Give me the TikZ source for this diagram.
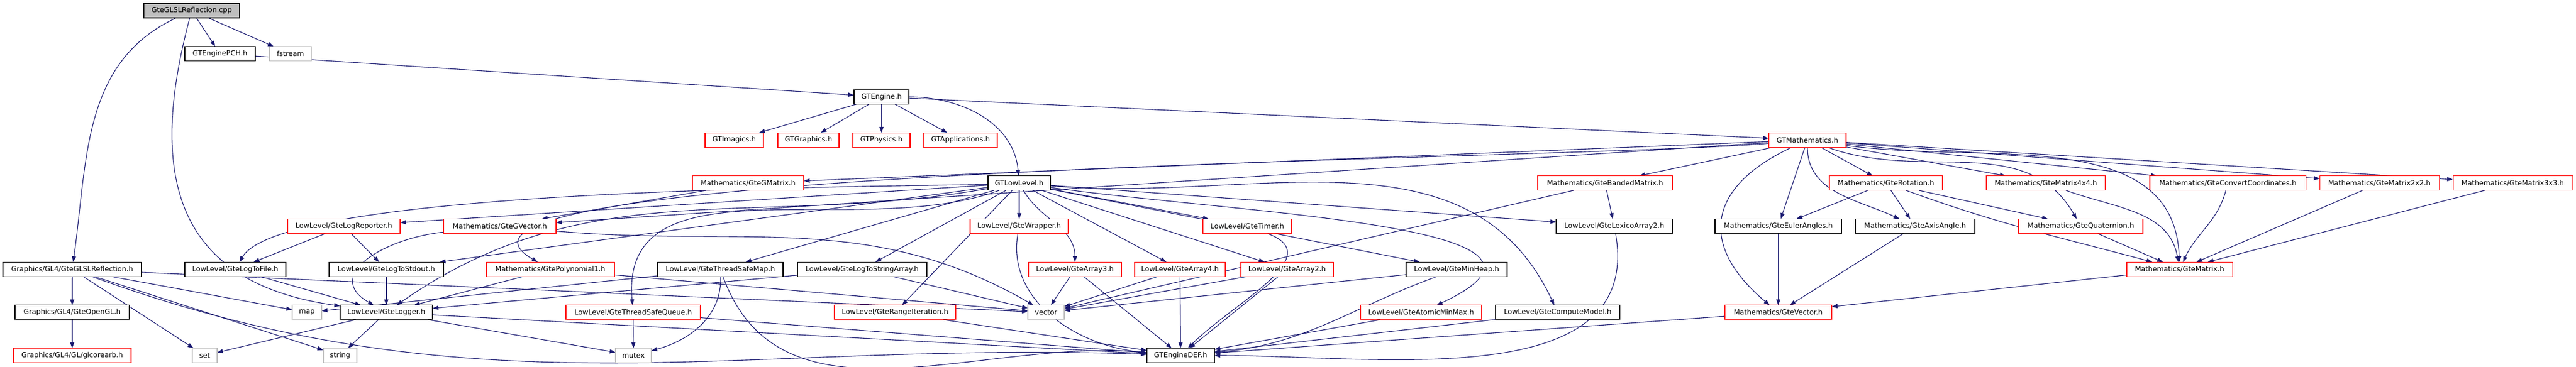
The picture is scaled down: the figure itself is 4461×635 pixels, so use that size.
\documentclass[tikz,border=0pt]{standalone}
\usepackage{fontspec}
\setmainfont{DejaVu Sans}
\usetikzlibrary{arrows.meta, backgrounds}
\definecolor{incblue}{HTML}{191970}
\definecolor{grey75}{HTML}{BFBFBF}
\tikzset{
->, % every connector is an include
>={Triangle[length=2.5pt, width=1.8pt]}, % filled heads as dot draws them
x=0.25pt, y=0.25pt, % one unit is one pixel of the graph
every node/.style={scale=0.25, font=\fontsize{12.2}{14}\selectfont, minimum height=25pt, inner sep=0pt},
header/.style={draw=black, line width=0.28pt, fill=white}, % header shown with all its includes
cut/.style={draw=red, line width=0.28pt, fill=white}, % header whose includes are left out
sys/.style={draw=grey75, line width=0.28pt, fill=white}, % system header
source/.style={draw=black, line width=0.28pt, fill=grey75}, % the file itself
}

\begin{document}
\begin{tikzpicture}
    \useasboundingbox (0,0) rectangle (4461,-635);
    % rank 0 and 1
    \node[source, minimum width=166pt] (cpp) at (332,-18.5) {GteGLSLReflection.cpp};
    \node[header, minimum width=122pt] (pch) at (381,-93.2) {GTEnginePCH.h};
    \node[sys, minimum width=72pt] (fstream) at (503,-93.2) {fstream};
    % rank 2 and 3
    \node[header, minimum width=95pt] (engine) at (1526.5,-167.9) {GTEngine.h};
    \node[cut, minimum width=101pt] (imagics) at (1271.5,-242.6) {GTImagics.h};
    \node[cut, minimum width=106pt] (graphics) at (1400,-242.6) {GTGraphics.h};
    \node[cut, minimum width=99pt] (physics) at (1526.5,-242.6) {GTPhysics.h};
    \node[cut, minimum width=127pt] (apps) at (1663.5,-242.6) {GTApplications.h};
    \node[cut, minimum width=134pt] (gm) at (3130,-242.6) {GTMathematics.h};
    % rank 4
    \node[cut, minimum width=193pt] (gmatrix) at (1295.5,-317.3) {Mathematics/GteGMatrix.h};
    \node[header, minimum width=108pt] (ll) at (1765,-317.3) {GTLowLevel.h};
    \node[cut, minimum width=233pt] (banded) at (2779.5,-317.3) {Mathematics/GteBandedMatrix.h};
    \node[cut, minimum width=196pt] (rotation) at (3266,-317.3) {Mathematics/GteRotation.h};
    \node[cut, minimum width=206pt] (m4) at (3543,-317.3) {Mathematics/GteMatrix4x4.h};
    \node[cut, minimum width=270pt] (convert) at (3858,-317.3) {Mathematics/GteConvertCoordinates.h};
    \node[cut, minimum width=207pt] (m2) at (4120.5,-317.3) {Mathematics/GteMatrix2x2.h};
    \node[cut, minimum width=207pt] (m3) at (4351.5,-317.3) {Mathematics/GteMatrix3x3.h};
    % rank 5
    \node[cut, minimum width=195pt] (logrep) at (595.5,-392) {LowLevel/GteLogReporter.h};
    \node[cut, minimum width=195pt] (gvector) at (865.5,-392) {Mathematics/GteGVector.h};
    \node[cut, minimum width=170pt] (wrapper) at (1765,-392) {LowLevel/GteWrapper.h};
    \node[cut, minimum width=154pt] (timer) at (2160,-392) {LowLevel/GteTimer.h};
    \node[header, minimum width=201pt] (lexico) at (2795.5,-392) {LowLevel/GteLexicoArray2.h};
    \node[header, minimum width=219pt] (euler) at (3079.5,-392) {Mathematics/GteEulerAngles.h};
    \node[header, minimum width=207pt] (axis) at (3316.5,-392) {Mathematics/GteAxisAngle.h};
    \node[cut, minimum width=215pt] (quat) at (3603.5,-392) {Mathematics/GteQuaternion.h};
    % rank 6
    \node[header, minimum width=240pt] (glslh) at (125,-466.7) {Graphics/GL4/GteGLSLReflection.h};
    \node[header, minimum width=175pt] (logfile) at (407.5,-466.7) {LowLevel/GteLogToFile.h};
    \node[header, minimum width=198pt] (stdout) at (669,-466.7) {LowLevel/GteLogToStdout.h};
    \node[cut, minimum width=222pt] (poly) at (953,-466.7) {Mathematics/GtePolynomial1.h};
    \node[header, minimum width=217pt] (tsmap) at (1247.5,-466.7) {LowLevel/GteThreadSafeMap.h};
    \node[header, minimum width=224pt] (lsa) at (1493,-466.7) {LowLevel/GteLogToStringArray.h};
    \node[cut, minimum width=161pt] (arr3) at (1861.5,-466.7) {LowLevel/GteArray3.h};
    \node[cut, minimum width=157pt] (arr4) at (2043.5,-466.7) {LowLevel/GteArray4.h};
    \node[cut, minimum width=160pt] (arr2) at (2229,-466.7) {LowLevel/GteArray2.h};
    \node[header, minimum width=175pt] (minheap) at (2522.5,-466.7) {LowLevel/GteMinHeap.h};
    \node[cut, minimum width=183pt] (matrix) at (3774.5,-466.7) {Mathematics/GteMatrix.h};
    % rank 7
    \node[header, minimum width=198pt] (opengl) at (125,-541.4) {Graphics/GL4/GteOpenGL.h};
    \node[sys, minimum width=51pt] (map) at (531.5,-541.4) {map};
    \node[header, minimum width=160pt] (logger) at (669,-541.4) {LowLevel/GteLogger.h};
    \node[cut, minimum width=233pt] (tsq) at (1096.5,-541.4) {LowLevel/GteThreadSafeQueue.h};
    \node[cut, minimum width=210pt] (range) at (1550,-541.4) {LowLevel/GteRangeIteration.h};
    \node[sys, minimum width=63pt] (vector) at (1811.5,-541.4) {vector};
    \node[cut, minimum width=210pt] (atomic) at (2461,-541.4) {LowLevel/GteAtomicMinMax.h};
    \node[header, minimum width=215pt] (compute) at (2697.5,-541.4) {LowLevel/GteComputeModel.h};
    \node[cut, minimum width=185pt] (vec) at (3079.5,-541.4) {Mathematics/GteVector.h};
    % rank 8
    \node[cut, minimum width=204pt] (glcore) at (125,-616) {Graphics/GL4/GL/glcorearb.h};
    \node[sys, minimum width=43pt] (set) at (354.5,-616) {set};
    \node[sys, minimum width=58pt] (string) at (589,-616) {string};
    \node[sys, minimum width=62pt] (mutex) at (1097,-616) {mutex};
    \node[header, minimum width=117pt] (def) at (2044.5,-616) {GTEngineDEF.h};

    \begin{pgfonlayer}{background}
    \draw[incblue, line width=0.28pt]
    (cpp) edge (pch)
    (cpp) edge (fstream)
    (cpp) edge[out=205, in=82] (glslh)
    (cpp) edge[out=255, in=172, looseness=1.3] (logger)
    (pch) edge (engine)
    (engine) edge (imagics)
    (engine) edge (graphics)
    (engine) edge (physics)
    (engine) edge (apps)
    (engine) edge[out=0, in=95] (ll)
    (engine) edge (gm)
    (glslh) edge (opengl)
    (glslh) edge (set)
    (glslh) edge (string)
    (glslh) edge (map)
    (glslh) edge (vector)
    (glslh) edge[out=-20, in=178] (def)
    (opengl) edge (glcore)
    (gm) edge (gmatrix)
    (gm) edge (gvector)
    (gm) edge[out=185, in=150, looseness=0.4] (poly)
    (gm) edge (banded)
    (gm) edge[out=205, in=140, looseness=1.5] (vec)
    (gm) edge (euler)
    (gm) edge[out=270, in=155] (axis)
    (gm) edge (rotation)
    (gm) edge (m4)
    (gm) edge[out=-20, in=120] (quat)
    (gm) edge[out=-8, in=92] (matrix)
    (gm) edge (convert)
    (gm) edge (m2)
    (gm) edge (m3)
    (ll) edge (logrep)
    (ll) edge[out=182, in=60, looseness=0.3] (logfile)
    (ll) edge (stdout)
    (ll) edge[out=190, in=35] (logger)
    (ll) edge[out=200, in=95] (tsq)
    (ll) edge (tsmap)
    (ll) edge (lsa)
    (ll) edge (range)
    (ll) edge (wrapper)
    (ll) edge[out=-60, in=90] (arr3)
    (ll) edge (arr4)
    (ll) edge (arr2)
    (ll) edge (timer)
    (ll) edge (minheap)
    (ll) edge[out=-8, in=25, looseness=1.2] (atomic)
    (ll) edge[out=-5, in=115] (compute)
    (ll) edge (lexico)
    (gmatrix) edge (gvector)
    (logrep) edge (logfile)
    (logrep) edge (stdout)
    (gvector) edge[out=186, in=150, looseness=1.5] (logger)
    (gvector) edge[out=-5, in=150] (vector)
    (logfile) edge (logger)
    (stdout) edge (logger)
    (poly) edge (logger)
    (poly) edge (vector)
    (tsmap) edge (map)
    (tsmap) edge[out=-88, in=15] (mutex)
    (tsmap) edge[out=-70, in=175] (def)
    (lsa) edge (logger)
    (lsa) edge (vector)
    (tsq) edge (mutex)
    (tsq) edge (def)
    (logger) edge (string)
    (logger) edge (set)
    (logger) edge (mutex)
    (logger) edge (def)
    (range) edge (def)
    (wrapper) edge[out=260, in=175] (def)
    (arr3) edge (vector)
    (arr3) edge (def)
    (arr4) edge (vector)
    (arr4) edge (def)
    (arr2) edge (vector)
    (arr2) edge (def)
    (timer) edge[out=-20, in=45, looseness=1.2] (def)
    (minheap) edge (vector)
    (minheap) edge[out=200, in=5] (def)
    (atomic) edge (def)
    (compute) edge (def)
    (lexico) edge[out=-80, in=0] (def)
    (banded) edge (lexico)
    (banded) edge (vector)
    (vec) edge (def)
    (euler) edge (vec)
    (axis) edge (vec)
    (rotation) edge (euler)
    (rotation) edge (axis)
    (rotation) edge (quat)
    (rotation) edge[out=-20, in=165] (matrix)
    (quat) edge (matrix)
    (m4) edge[out=-20, in=100] (matrix)
    (convert) edge[out=-105, in=65] (matrix)
    (m2) edge (matrix)
    (m3) edge (matrix)
    (matrix) edge (vec);
    \end{pgfonlayer}
  \end{tikzpicture}
\end{document}
